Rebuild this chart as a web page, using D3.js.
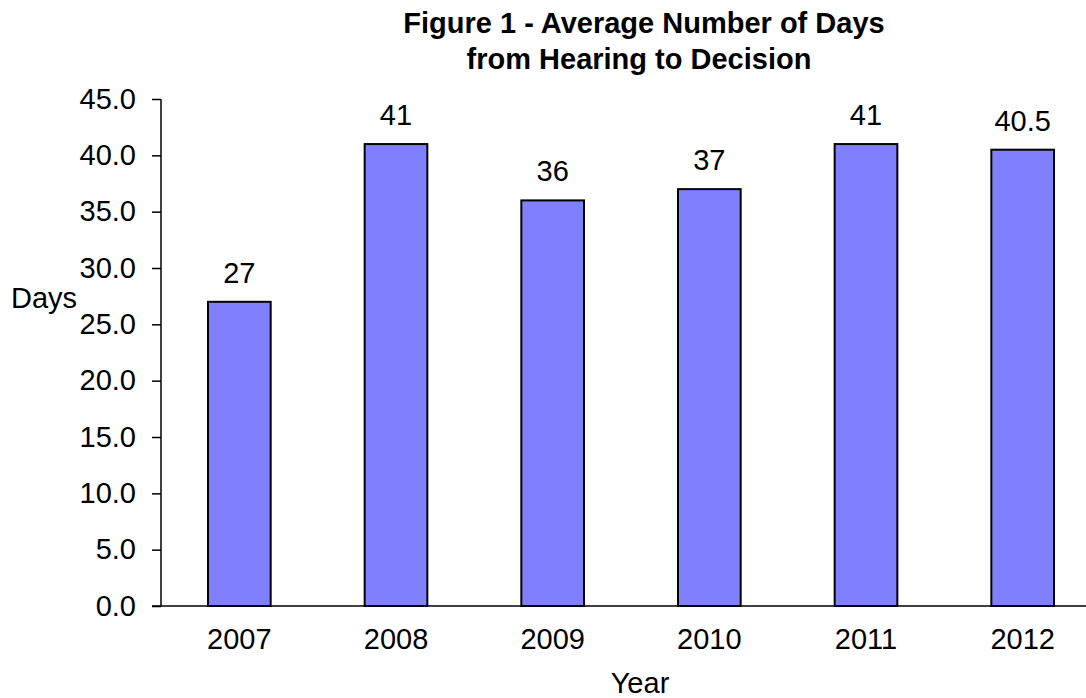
<!DOCTYPE html>
<html>
<head>
<meta charset="utf-8">
<script src="https://cdn.jsdelivr.net/npm/d3@7"></script>
<style>
  html, body { margin: 0; padding: 0; background: #fff; }
  svg { display: block; font-family: "Liberation Sans", Arial, sans-serif; }
</style>
</head>
<body>
<svg id="chart" width="1086" height="698"></svg>
<script>
// Average number of days from hearing to decision, by year
const years = ["2007", "2008", "2009", "2010", "2011", "2012"];
const avgDays = [27, 41, 36, 37, 41, 40.5];
const valueLabels = ["27", "41", "36", "37", "41", "40.5"];
const yTicks = [0, 5, 10, 15, 20, 25, 30, 35, 40, 45];

const svg = d3.select("#chart");
const margin = { left: 161, top: 99, bottom: 92 };
const plotW = 940, plotH = 698 - margin.top - margin.bottom;
const fs = 29;

const x = d3.scaleBand().domain(years).range([0, plotW]).paddingInner(0.6).paddingOuter(0.3);
const y = d3.scaleLinear().domain([0, 45]).range([plotH, 0]);

const g = svg.append("g").attr("transform", `translate(${margin.left},${margin.top})`);

// Bars
g.selectAll("rect.bar")
  .data(years)
  .join("rect")
  .attr("class", "bar")
  .attr("x", d => x(d))
  .attr("y", (d, i) => y(avgDays[i]))
  .attr("width", x.bandwidth())
  .attr("height", (d, i) => plotH - y(avgDays[i]))
  .attr("fill", "#8080ff")
  .attr("stroke", "#000")
  .attr("stroke-width", 2);

// Value labels above bars
g.selectAll("text.val")
  .data(years)
  .join("text")
  .attr("class", "val")
  .attr("x", d => x(d) + x.bandwidth() / 2)
  .attr("y", (d, i) => y(avgDays[i]) - 19)
  .attr("text-anchor", "middle")
  .attr("font-size", fs)
  .attr("fill", "#000")
  .text((d, i) => valueLabels[i]);

// Y axis
const yAxis = d3.axisLeft(y).tickValues(yTicks).tickFormat(d3.format(".1f")).tickSize(9).tickPadding(16);
const ya = g.append("g").call(yAxis);
ya.select(".domain").attr("stroke", "#000").attr("stroke-width", 1.5).attr("d", `M0,0V${plotH}`);
ya.selectAll(".tick line").attr("stroke", "#000").attr("stroke-width", 1.5);
ya.selectAll(".tick text").attr("font-size", fs).attr("fill", "#000")
  .attr("font-family", "'Liberation Sans', Arial, sans-serif");

// X axis
const xAxis = d3.axisBottom(x).tickSize(0).tickPadding(22);
const xa = g.append("g").attr("transform", `translate(0,${plotH})`).call(xAxis);
xa.select(".domain").attr("stroke", "#000").attr("stroke-width", 1.5).attr("d", `M-9,0H${plotW}`);
xa.selectAll(".tick text").attr("font-size", fs).attr("fill", "#000")
  .attr("font-family", "'Liberation Sans', Arial, sans-serif");

// Axis titles
svg.append("text").attr("x", 11).attr("y", 308).attr("font-size", fs).attr("fill", "#000").text("Days");
svg.append("text").attr("x", 640).attr("y", 693).attr("text-anchor", "middle")
  .attr("font-size", fs).attr("fill", "#000").text("Year");

// Chart title
const title = svg.append("text").attr("text-anchor", "middle").attr("font-size", fs)
  .attr("font-weight", "bold").attr("fill", "#000");
title.append("tspan").attr("x", 644).attr("y", 33).text("Figure 1 - Average Number of Days");
title.append("tspan").attr("x", 639).attr("y", 69).text("from Hearing to Decision");
</script>
</body>
</html>
